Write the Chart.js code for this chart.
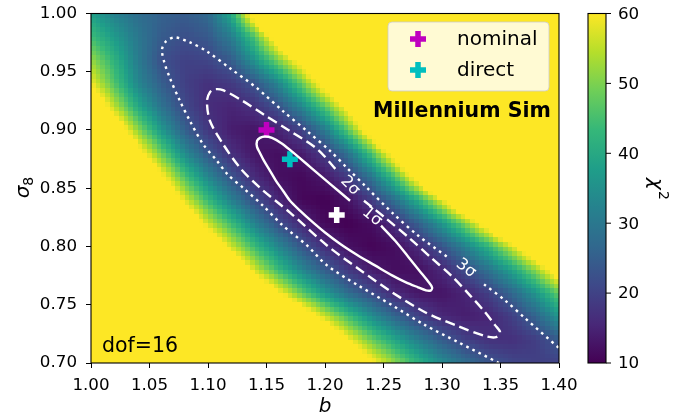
<!DOCTYPE html>
<html>
<head>
<meta charset="utf-8">
<script src="https://cdn.jsdelivr.net/npm/chart.js@4.4.0/dist/chart.umd.min.js"></script>
<style>
  html, body { margin: 0; padding: 0; background: #fff; }
  canvas { display: block; }
</style>
</head>
<body>
<canvas id="chart" width="692" height="419"></canvas>
<script>
// ------------------------
// Data
// ------------------------
const xTicks = [1.00, 1.05, 1.10, 1.15, 1.20, 1.25, 1.30, 1.35, 1.40];
const yTicks = [0.70, 0.75, 0.80, 0.85, 0.90, 0.95, 1.00];
const cbTicks = [10, 20, 30, 40, 50, 60];

// chi^2 map, sampled every 0.02 in b and sigma_8
const bNodes = [1.00, 1.02, 1.04, 1.06, 1.08, 1.10, 1.12, 1.14, 1.16, 1.18, 1.20,
                1.22, 1.24, 1.26, 1.28, 1.30, 1.32, 1.34, 1.36, 1.38, 1.40];
const s8Nodes = [1.00, 0.98, 0.96, 0.94, 0.92, 0.90, 0.88, 0.86,
                 0.84, 0.82, 0.80, 0.78, 0.76, 0.74, 0.72, 0.70];

const chi2_100 = [38, 32, 28, 25.5, 24.5, 27, 40, 68, 98, 130, 165, 200, 235, 270, 305, 340, 375, 410, 445, 480, 515];
const chi2_098 = [44, 37, 30, 24.5, 22.2, 24, 31, 46, 68, 95, 125, 158, 192, 228, 265, 302, 340, 378, 416, 455, 495];
const chi2_096 = [52, 42, 31, 22.3, 19.7, 20.5, 24.5, 36, 50, 65, 85, 110, 138, 168, 200, 234, 270, 307, 345, 385, 425];
const chi2_094 = [59, 46, 33, 25, 19.5, 17.1, 18.5, 23, 33, 48, 66, 85, 108, 134, 162, 193, 226, 260, 296, 334, 373];
const chi2_092 = [72, 55, 40, 29, 21, 16.4, 15, 17.2, 22.5, 33, 46.6, 63.7, 85.6, 110, 137, 166, 197, 230, 265, 302, 340];
const chi2_090 = [90, 69.5, 51.4, 36.6, 25.2, 18.1, 14, 12.8, 14.8, 19.9, 30.6, 47.3, 68, 95, 122, 151, 182, 215, 250, 287, 325];
const chi2_088 = [110, 87, 64.5, 48.3, 33.8, 23.6, 16.7, 12.9, 11.9, 13.7, 18.7, 29, 45.8, 66.6, 93.7, 122, 152, 184, 218, 254, 292];
const chi2_086 = [128, 103, 80.5, 61.9, 45.5, 32.8, 23.1, 15.9, 12, 11.1, 13.3, 18.8, 29.6, 45.6, 66.6, 95, 124, 155, 188, 222, 258];
const chi2_084 = [148, 121.5, 97, 76.3, 57.7, 43.4, 31.8, 22, 15.1, 10.9, 10.2, 12.5, 18.8, 28.6, 41.5, 58.5, 80.4, 107, 135, 165, 197];
const chi2_082 = [168, 141, 115, 93, 72.7, 56, 43.8, 31.9, 22.1, 15.5, 11, 10, 11.8, 16.5, 25.5, 36.3, 50.3, 67, 91, 117, 145];
const chi2_080 = [193, 165, 137.5, 114, 91.8, 71.8, 56.5, 43.9, 33.1, 23.6, 16.6, 12.2, 10.5, 11.8, 15.9, 22.9, 31.7, 42.2, 56.9, 73.5, 93.5];
const chi2_078 = [216, 187, 159, 134.6, 111, 91.5, 73.7, 56.5, 43.6, 33, 24.4, 18.1, 13.7, 11.7, 12.1, 15.5, 21.8, 29, 38.9, 51.7, 67.6];
const chi2_076 = [245, 215, 185, 159, 134.6, 113, 93, 75, 61, 47.4, 36.6, 27.4, 21.5, 15.6, 13, 12.8, 15, 19.5, 26.7, 36, 48];
const chi2_074 = [295, 262, 229, 200, 172, 147, 124, 103, 86.5, 69.7, 55.8, 44.6, 34.3, 26.1, 19.8, 15.5, 14, 15.2, 19.4, 26, 36];
const chi2_072 = [330, 295, 262, 230, 200, 176, 152, 129, 109, 91.8, 74.5, 60, 48.2, 39.1, 31.1, 24.4, 19.5, 17, 16.9, 19.2, 24.2];
const chi2_070 = [360, 325, 290, 258, 228, 200, 174, 150, 128, 110, 93.5, 76.6, 61.8, 51, 41.8, 33.9, 27.9, 23.3, 20.6, 19.5, 19.9];

const chi2Grid = [chi2_100, chi2_098, chi2_096, chi2_094, chi2_092, chi2_090, chi2_088, chi2_086,
                  chi2_084, chi2_082, chi2_080, chi2_078, chi2_076, chi2_074, chi2_072, chi2_070];

// contour paths [b, sigma8]; null = break for the inline label
const sigma1Path = [
  [1.2479, 0.8179], [1.2598, 0.8051], [1.2709, 0.7915], [1.2812, 0.7786], [1.2880, 0.7701],
  [1.2915, 0.7650], [1.2906, 0.7624], [1.2863, 0.7624], [1.2795, 0.7650], [1.2692, 0.7692],
  [1.2573, 0.7752], [1.2427, 0.7838], [1.2282, 0.7923], [1.2137, 0.8017], [1.2000, 0.8120],
  [1.1880, 0.8222], [1.1786, 0.8308], [1.1701, 0.8393], [1.1641, 0.8479], [1.1581, 0.8564],
  [1.1530, 0.8650], [1.1479, 0.8735], [1.1444, 0.8803], [1.1419, 0.8855], [1.1419, 0.8906],
  [1.1444, 0.8932], [1.1487, 0.8944], [1.1547, 0.8932], [1.1624, 0.8889], [1.1701, 0.8829],
  [1.1872, 0.8684], [1.2043, 0.8538], [1.2214, 0.8393]
];
const sigma2Path = [
  [1.2333, 0.8393], [1.2513, 0.8248], [1.2726, 0.8068], [1.2915, 0.7897], [1.3085, 0.7744],
  [1.3239, 0.7581], [1.3368, 0.7436], [1.3453, 0.7325], [1.3496, 0.7265], [1.3462, 0.7222],
  [1.3368, 0.7231], [1.3137, 0.7316], [1.2855, 0.7436], [1.2573, 0.7607], [1.2282, 0.7812],
  [1.2017, 0.8009], [1.1701, 0.8291], [1.1444, 0.8504], [1.1274, 0.8675], [1.1128, 0.8880],
  [1.1017, 0.9077], [1.0991, 0.9248], [1.1017, 0.9325], [1.1060, 0.9350], [1.1128, 0.9342],
  [1.1299, 0.9248], [1.1470, 0.9137], [1.1701, 0.8991], [1.1932, 0.8838], [1.2103, 0.8650]
];
const sigma3Path = [
  [1.3487, 0.7000], [1.3137, 0.7179], [1.2855, 0.7325], [1.2573, 0.7496], [1.2282, 0.7667],
  [1.2017, 0.7838], [1.1846, 0.8009], [1.1641, 0.8179], [1.1470, 0.8350], [1.1299, 0.8504],
  [1.1171, 0.8615], [1.1077, 0.8735], [1.0957, 0.8880], [1.0846, 0.9077], [1.0761, 0.9248],
  [1.0675, 0.9444], [1.0624, 0.9590], [1.0607, 0.9692], [1.0641, 0.9761], [1.0718, 0.9795],
  [1.0846, 0.9752], [1.0991, 0.9675], [1.1188, 0.9530], [1.1419, 0.9359], [1.1641, 0.9162],
  [1.1846, 0.8991], [1.2043, 0.8821], [1.2188, 0.8675], [1.2342, 0.8521], [1.2573, 0.8291],
  [1.2795, 0.8094], [1.3051, 0.7906], null,
  [1.3359, 0.7675], [1.3538, 0.7538], [1.3709, 0.7385], [1.4000, 0.7128]
];
const contourNames = ['1σ', '2σ', '3σ'];

// marked models
const markerNames = ['nominal', 'direct'];
const markerB = [1.15, 1.17];
const markerS8 = [0.90, 0.875];
const bestFit = [1.21, 0.827];

// ------------------------
// Look
// ------------------------
const VMIN = 10, VMAX = 60;
const viridis = ['#440154', '#482878', '#3e4989', '#31688e', '#26828e',
                 '#1f9e89', '#35b779', '#6ece58', '#b5de2b', '#fde725'];
const viridisRGB = viridis.map(h => [1, 3, 5].map(i => parseInt(h.substr(i, 2), 16)));
const FONT = '"DejaVu Sans", sans-serif';

function colorFor(v) {
  let t = (v - VMIN) / (VMAX - VMIN);
  t = Math.max(0, Math.min(1, t)) * (viridisRGB.length - 1);
  const i = Math.min(Math.floor(t), viridisRGB.length - 2), f = t - i;
  const a = viridisRGB[i], b = viridisRGB[i + 1];
  return 'rgb(' + a.map((c, k) => Math.round(c + (b[k] - c) * f)).join(',') + ')';
}

// bilinear look-up into the sampled map (display smoothing, like imshow)
function chi2At(b, s) {
  const fi = (b - bNodes[0]) / (bNodes[1] - bNodes[0]);
  const fj = (s8Nodes[0] - s) / (s8Nodes[0] - s8Nodes[1]);
  const i = Math.max(0, Math.min(bNodes.length - 2, Math.floor(fi)));
  const j = Math.max(0, Math.min(s8Nodes.length - 2, Math.floor(fj)));
  const u = fi - i, w = fj - j;
  const r0 = chi2Grid[j], r1 = chi2Grid[j + 1];
  return (1 - w) * ((1 - u) * r0[i] + u * r0[i + 1]) + w * ((1 - u) * r1[i] + u * r1[i + 1]);
}

const toPts = path => path.map((p, k) => p ? { x: p[0], y: p[1] } : { x: path[k - 1][0], y: null });

// ------------------------
// Plugins
// ------------------------
const heatmap = {
  id: 'heatmap',
  beforeDatasetsDraw(chart) {
    const { ctx, scales: { x, y } } = chart;
    const nx = 100, ny = 75;
    const b0 = bNodes[0], b1 = bNodes[bNodes.length - 1];
    const s0 = s8Nodes[0], s1 = s8Nodes[s8Nodes.length - 1];
    const db = (b1 - b0) / nx, ds = (s0 - s1) / ny;
    ctx.save();
    for (let j = 0; j < ny; j++) {
      const yt = Math.round(y.getPixelForValue(s0 - j * ds));
      const yb = Math.round(y.getPixelForValue(s0 - (j + 1) * ds));
      for (let i = 0; i < nx; i++) {
        const xl = Math.round(x.getPixelForValue(b0 + i * db));
        const xr = Math.round(x.getPixelForValue(b0 + (i + 1) * db));
        ctx.fillStyle = colorFor(chi2At(b0 + (i + 0.5) * db, s0 - (j + 0.5) * ds));
        ctx.fillRect(xl, yt, xr - xl, yb - yt);
      }
    }
    ctx.restore();
  }
};

const contourLabels = {
  id: 'contourLabels',
  afterDatasetsDraw(chart) {
    const { ctx, scales: { x, y } } = chart;
    const spots = [[1.2402, 0.8256, 39], [1.2214, 0.8521, 45], [1.3205, 0.7812, 37]];
    ctx.save();
    ctx.fillStyle = '#fff';
    ctx.font = '16px ' + FONT;
    ctx.textAlign = 'center';
    ctx.textBaseline = 'middle';
    spots.forEach((s, k) => {
      ctx.save();
      ctx.translate(x.getPixelForValue(s[0]), y.getPixelForValue(s[1]));
      ctx.rotate(s[2] * Math.PI / 180);
      ctx.fillText(contourNames[k], 0, 0);
      ctx.restore();
    });
    ctx.restore();
  }
};

const decorations = {
  id: 'decorations',
  afterDraw(chart) {
    const { ctx, chartArea: a } = chart;
    ctx.save();

    // frame
    ctx.strokeStyle = '#000';
    ctx.lineWidth = 1.1;
    ctx.strokeRect(a.left, a.top, a.right - a.left, a.bottom - a.top);

    // legend box
    const lx = 388, ly = 22, lw = 161, lh = 69, r = 4;
    ctx.beginPath();
    ctx.moveTo(lx + r, ly);
    ctx.arcTo(lx + lw, ly, lx + lw, ly + lh, r);
    ctx.arcTo(lx + lw, ly + lh, lx, ly + lh, r);
    ctx.arcTo(lx, ly + lh, lx, ly, r);
    ctx.arcTo(lx, ly, lx + lw, ly, r);
    ctx.closePath();
    ctx.fillStyle = 'rgba(255,255,255,0.8)';
    ctx.fill();
    ctx.strokeStyle = 'rgba(204,204,204,0.8)';
    ctx.lineWidth = 1;
    ctx.stroke();
    const colors = ['#bf00bf', '#00bfbf'];
    markerNames.forEach((name, k) => {
      const cy = 39 + k * 31;
      ctx.strokeStyle = colors[k];
      ctx.lineWidth = 5.5;
      ctx.beginPath();
      ctx.moveTo(410, cy); ctx.lineTo(426, cy);
      ctx.moveTo(418, cy - 8); ctx.lineTo(418, cy + 8);
      ctx.stroke();
      ctx.fillStyle = '#000';
      ctx.font = '20px ' + FONT;
      ctx.textAlign = 'left';
      ctx.textBaseline = 'middle';
      ctx.fillText(name, 457, cy + 1);
    });

    // annotations
    ctx.fillStyle = '#000';
    ctx.textAlign = 'left';
    ctx.textBaseline = 'alphabetic';
    ctx.font = 'bold 20.5px ' + FONT;
    ctx.fillText('Millennium Sim', 373, 117);
    ctx.font = '20.5px ' + FONT;
    ctx.fillText('dof=16', 102, 352);

    // axis titles
    ctx.font = 'italic 20px ' + FONT;
    ctx.textAlign = 'center';
    ctx.fillText('b', 325, 412);

    ctx.save();
    ctx.translate(29, 188);
    ctx.rotate(-Math.PI / 2);
    ctx.font = 'italic 20px ' + FONT;
    const ws = ctx.measureText('σ').width;
    ctx.textAlign = 'left';
    ctx.fillText('σ', -ws / 2 - 4, 0);
    ctx.font = '14px ' + FONT;
    ctx.fillText('8', ws / 2 - 4, 4);
    ctx.restore();

    // colorbar
    const cx0 = 588, cx1 = 606;
    const g = ctx.createLinearGradient(0, a.bottom, 0, a.top);
    viridis.forEach((c, k) => g.addColorStop(k / (viridis.length - 1), c));
    ctx.fillStyle = g;
    ctx.fillRect(cx0, a.top, cx1 - cx0, a.bottom - a.top);
    ctx.strokeStyle = '#000';
    ctx.lineWidth = 1.1;
    ctx.strokeRect(cx0, a.top, cx1 - cx0, a.bottom - a.top);
    ctx.font = '16.7px ' + FONT;
    ctx.textAlign = 'left';
    ctx.textBaseline = 'middle';
    ctx.fillStyle = '#000';
    cbTicks.forEach(v => {
      const py = a.bottom - (v - VMIN) / (VMAX - VMIN) * (a.bottom - a.top);
      ctx.beginPath();
      ctx.moveTo(cx1, py); ctx.lineTo(cx1 + 5, py);
      ctx.lineWidth = 1;
      ctx.stroke();
      ctx.fillText(String(v), cx1 + 12, py + 1);
    });

    ctx.save();
    ctx.translate(650, 188);
    ctx.rotate(Math.PI / 2);
    ctx.font = 'italic 20px ' + FONT;
    ctx.textAlign = 'left';
    ctx.textBaseline = 'alphabetic';
    const wc = ctx.measureText('χ').width;
    ctx.fillText('χ', -wc / 2 - 4, 0);
    ctx.font = '14px ' + FONT;
    ctx.fillText('2', wc / 2 - 3, -9);
    ctx.restore();

    ctx.restore();
  }
};

// ------------------------
// Chart
// ------------------------
const lineBase = { type: 'scatter', showLine: true, pointRadius: 0, borderColor: '#fff',
                   borderWidth: 2.4, fill: false, spanGaps: false, tension: 0.3 };

new Chart(document.getElementById('chart'), {
  type: 'scatter',
  data: {
    datasets: [
      Object.assign({}, lineBase, { label: contourNames[0], data: toPts(sigma1Path) }),
      Object.assign({}, lineBase, { label: contourNames[1], data: toPts(sigma2Path), borderDash: [10, 5] }),
      Object.assign({}, lineBase, { label: contourNames[2], data: toPts(sigma3Path), borderDash: [2.6, 4.2] }),
      { label: 'best fit', data: [{ x: bestFit[0], y: bestFit[1] }], pointStyle: 'cross',
        pointRadius: 8, borderWidth: 5.5, borderColor: '#fff', backgroundColor: '#fff' },
      { label: markerNames[0], data: [{ x: markerB[0], y: markerS8[0] }], pointStyle: 'cross',
        pointRadius: 8, borderWidth: 5.5, borderColor: '#bf00bf', backgroundColor: '#bf00bf' },
      { label: markerNames[1], data: [{ x: markerB[1], y: markerS8[1] }], pointStyle: 'cross',
        pointRadius: 8, borderWidth: 5.5, borderColor: '#00bfbf', backgroundColor: '#00bfbf' }
    ]
  },
  options: {
    responsive: false,
    animation: false,
    devicePixelRatio: 1,
    layout: { padding: { left: 0, top: 12, right: 133, bottom: 0 } },
    plugins: { legend: { display: false }, tooltip: { enabled: false } },
    scales: {
      x: {
        type: 'linear', min: 1.0, max: 1.4,
        afterBuildTicks: s => { s.ticks = xTicks.map(v => ({ value: v })); },
        afterFit: s => { s.height = 56; s.paddingLeft = 0; s.paddingRight = 0; },
        ticks: { callback: v => v.toFixed(2), color: '#000', font: { family: FONT, size: 16.7 },
                 padding: 8, maxRotation: 0, autoSkip: false },
        grid: { drawOnChartArea: false, drawTicks: true, tickLength: 5, tickColor: '#000', tickWidth: 1 },
        border: { display: false }
      },
      y: {
        type: 'linear', min: 0.7, max: 1.0,
        afterBuildTicks: s => { s.ticks = yTicks.map(v => ({ value: v })); },
        afterFit: s => { s.width = 91; s.paddingTop = 0; s.paddingBottom = 0; },
        ticks: { callback: v => v.toFixed(2), color: '#000', font: { family: FONT, size: 16.7 },
                 padding: 9, autoSkip: false },
        grid: { drawOnChartArea: false, drawTicks: true, tickLength: 5, tickColor: '#000', tickWidth: 1 },
        border: { display: false }
      }
    }
  },
  plugins: [heatmap, contourLabels, decorations]
});
</script>
</body>
</html>
